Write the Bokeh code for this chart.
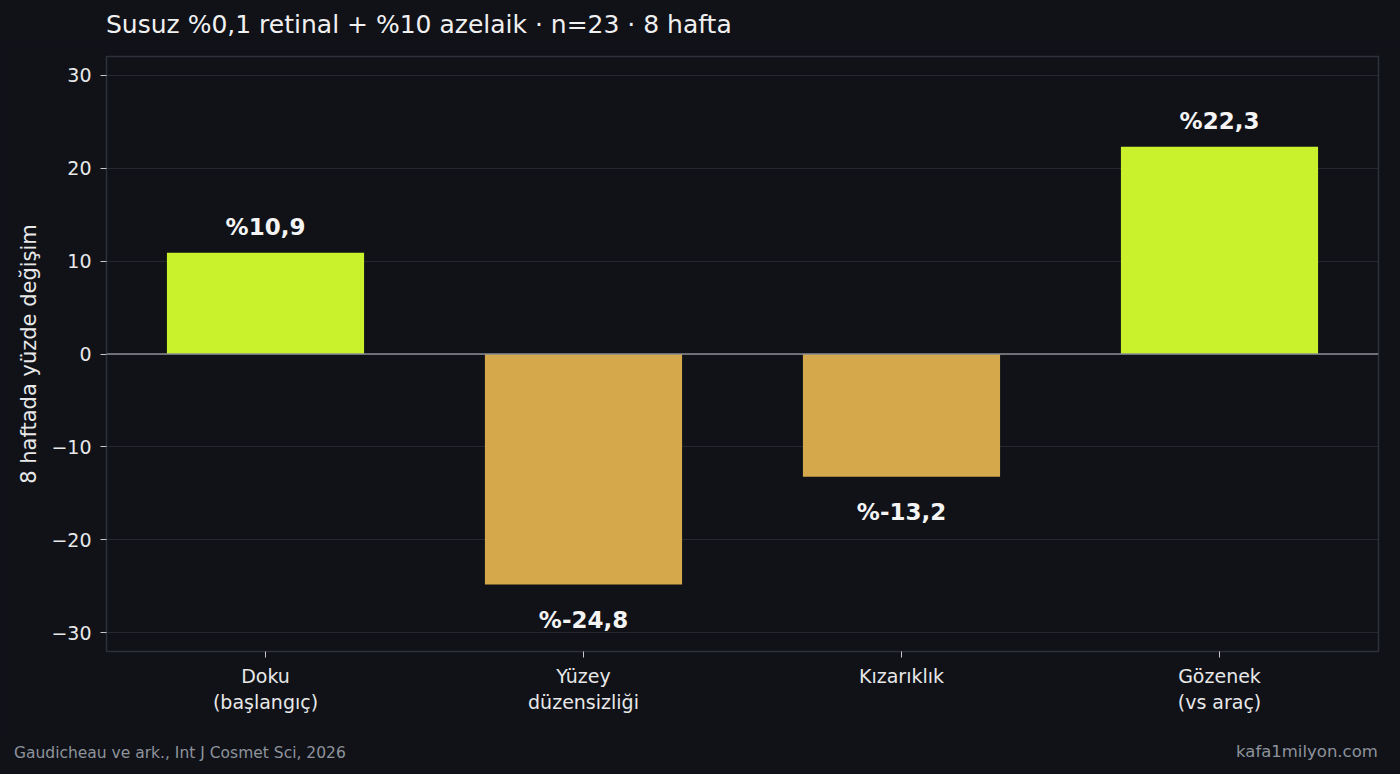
from bokeh.plotting import figure
from bokeh.layouts import column
from bokeh.models import ColumnDataSource, Span, FactorRange, Div
from bokeh.embed import file_html
from bokeh.resources import INLINE
from bokeh.core.properties import value

BG = "#101218"
FONT = "DejaVu Sans"

title = "Susuz %0,1 retinal + %10 azelaik · n=23 · 8 hafta"
categories = ["Doku\n(başlangıç)", "Yüzey\ndüzensizliği", "Kızarıklık", "Gözenek\n(vs araç)"]
changes = [10.9, -24.8, -13.2, 22.3]
y_ticks = [-30, -20, -10, 0, 10, 20, 30]
source_note = "Gaudicheau ve ark., Int J Cosmet Sci, 2026"
site = "kafa1milyon.com"

colors = ["#c9f22c" if v >= 0 else "#d4a84b" for v in changes]
labels = ["%" + f"{v:.1f}".replace(".", ",") for v in changes]
label_y = [v + 1.4 if v >= 0 else v - 2.4 for v in changes]
baselines = ["bottom" if v >= 0 else "top" for v in changes]

src = ColumnDataSource(dict(cat=categories, val=changes, color=colors,
                            lab=labels, ly=label_y, base=baselines))

# title strip above the chart (Div adds ~10px of its own around the content)
head_html = (
    '<div style="position:relative;width:1390px;height:30px;'
    'font-family:\'DejaVu Sans\';color:#f0f0f0;">'
    '<span style="position:absolute;left:101px;top:5px;font-size:25px;'
    'line-height:30px;white-space:nowrap;">%s</span></div>' % title
)
head = Div(text=head_html, width=1400, height=30, styles={"background-color": BG})

p = figure(width=1400, height=694, x_range=FactorRange(*categories, range_padding=0),
           y_range=(-32, 32), output_backend="svg", toolbar_location=None,
           min_border_left=106, min_border_right=22, min_border_top=16, min_border_bottom=83)

p.background_fill_color = BG
p.border_fill_color = BG
p.outline_line_color = "#2e313a"
p.outline_line_width = 1.5

p.xgrid.grid_line_color = None
p.ygrid.grid_line_color = "#252830"
p.ygrid.ticker = y_ticks

p.vbar(x="cat", top="val", bottom=0, width=0.62, fill_color="color", line_color=None, source=src)

p.add_layout(Span(location=0, dimension="width", line_color="#8a8c92", line_width=1.5))

p.text(x="cat", y="ly", text="lab", text_baseline="base", text_align="center",
       text_font=value(FONT), text_font_size="23px", text_font_style="bold",
       text_color="#f4f4f4", source=src)

for ax in (p.xaxis, p.yaxis):
    ax.axis_line_color = None
    ax.major_tick_line_color = "#c8c8c8"
    ax.major_tick_out = 6
    ax.major_tick_in = 0
    ax.minor_tick_line_color = None
    ax.major_label_text_font = FONT
    ax.major_label_text_font_size = "19px"
    ax.major_label_text_color = "#e8e8e8"

p.xaxis.major_label_standoff = 7
p.yaxis.major_label_standoff = 9
p.yaxis.ticker = y_ticks
p.yaxis.major_label_overrides = {t: str(t).replace("-", "\u2212") for t in y_ticks}
p.yaxis.axis_label = "8 haftada yüzde değişim"
p.yaxis.axis_label_text_font = FONT
p.yaxis.axis_label_text_font_size = "21px"
p.yaxis.axis_label_text_font_style = "normal"
p.yaxis.axis_label_text_color = "#e8e8e8"
p.yaxis.axis_label_standoff = 7

# footer strip below the chart
foot_html = (
    '<div style="position:relative;width:1390px;height:30px;'
    'font-family:\'DejaVu Sans\';color:#8e939c;">'
    '<span style="position:absolute;left:9px;top:5px;font-size:15.5px;'
    'line-height:18px;white-space:nowrap;">%s</span>'
    '<span style="position:absolute;left:1231px;top:3px;font-size:16.5px;'
    'line-height:20px;white-space:nowrap;">%s</span></div>' % (source_note, site)
)
foot = Div(text=foot_html, width=1400, height=30, styles={"background-color": BG})

page = column(head, p, foot, spacing=0)
page.styles = {"background-color": BG}

html = file_html(page, INLINE)
html = html.replace("<head>", "<head><style>body{background:%s;}</style>" % BG, 1)
open("out.html", "w").write(html)
